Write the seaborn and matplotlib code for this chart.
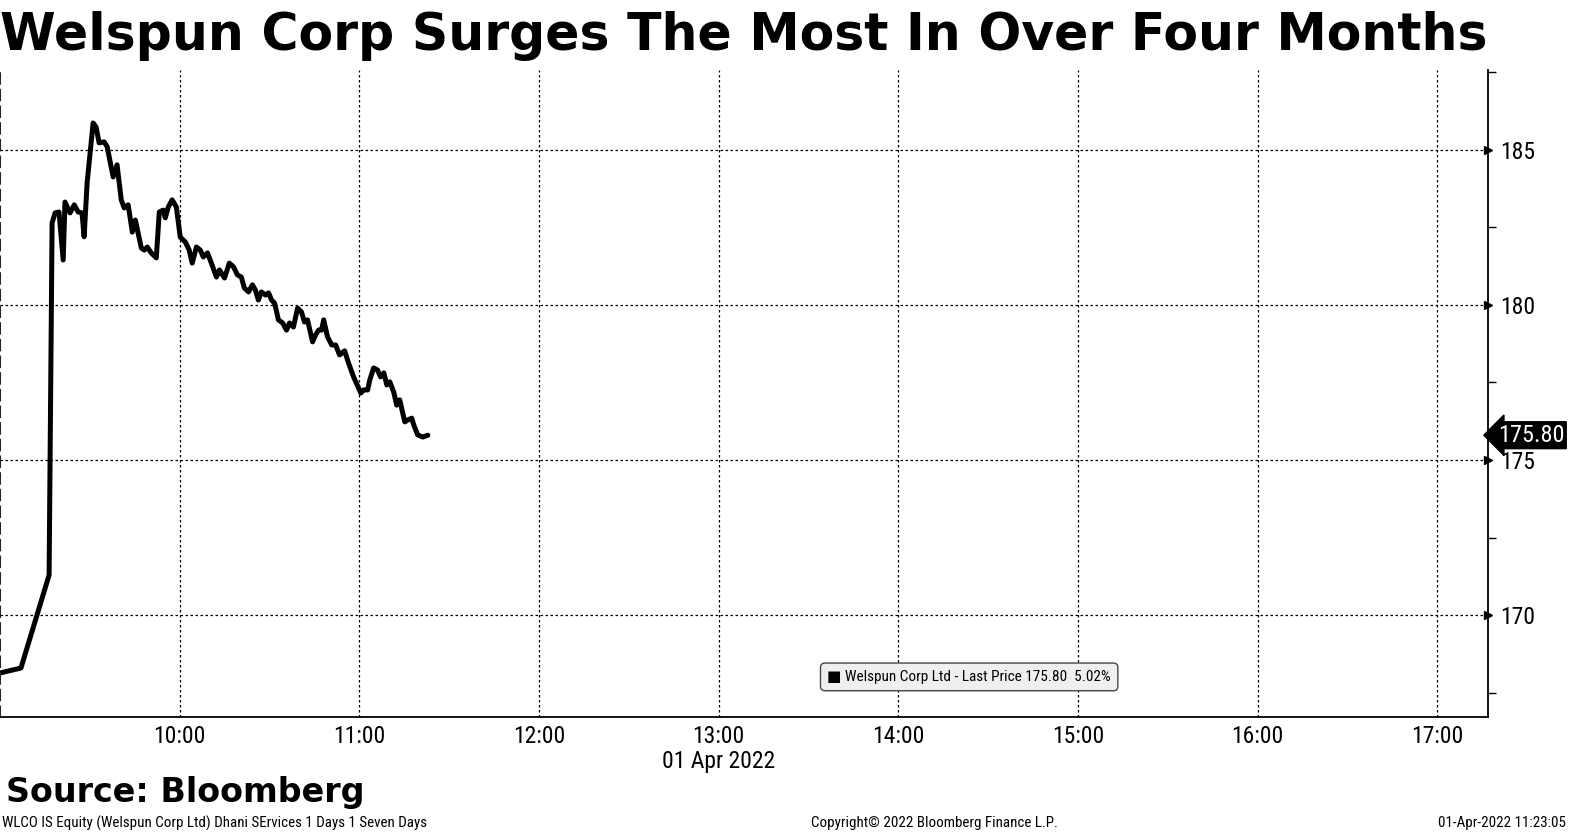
import pandas as pd
import numpy as np
import matplotlib
matplotlib.use("Agg")
import matplotlib.pyplot as plt
import matplotlib.dates as mdates
from matplotlib.ticker import FixedLocator
import seaborn as sns

# minutes after 09:00 on 01 Apr 2022
minutes = [0, 7, 16.4, 17.4, 18.4, 19.7, 21.1, 21.7, 23.4, 24.8, 26.1, 27.4, 28.1,
           29.1, 31.1, 32.1, 33.1, 34.8, 35.8, 37.8, 39.1, 40.5, 41.5, 42.8, 44.2,
           45.2, 47.2, 48.2, 49.2, 50.5, 52.2, 53.2, 54.5, 55.2, 56.2, 57.5, 58.9,
           60.2, 61.9, 63.2, 64.2, 65.6, 66.9, 67.9, 69.3, 70.6, 72.3, 73.3, 75.0,
           76.6, 78.0, 79.3, 80.6, 81.6, 83.0, 84.3, 85.3, 86.3, 87.3, 88.7, 89.7,
           90.7, 91.7, 93.0, 94.4, 95.7, 96.7, 98.0, 99.4, 100.7, 101.7, 102.7,
           104.4, 105.4, 106.4, 107.4, 108.1, 109.4, 110.8, 112.1, 113.4, 115.1,
           116.4, 118.1, 120.5, 121.5, 122.8, 123.5, 124.8, 126.1, 127.1, 128.2,
           129.2, 130.2, 131.5, 132.5, 133.5, 135.2, 136.2, 137.5, 138.2, 139.5,
           141.2, 142.9]
prices = [168.13, 168.29, 171.29, 182.65, 182.97, 183.0, 181.45, 183.32, 182.97,
          183.23, 183.0, 182.97, 182.2, 183.94, 185.87, 185.74, 185.23, 185.26,
          185.1, 184.13, 184.52, 183.39, 183.13, 183.23, 182.35, 182.74, 181.84,
          181.77, 181.87, 181.68, 181.52, 183.0, 183.06, 182.81, 183.16, 183.39,
          183.16, 182.19, 182.03, 181.77, 181.35, 181.87, 181.77, 181.55, 181.68,
          181.35, 180.9, 181.13, 180.87, 181.35, 181.23, 180.97, 180.9, 180.55,
          180.42, 180.65, 180.48, 180.16, 180.42, 180.32, 180.39, 180.16, 180.06,
          179.52, 179.42, 179.19, 179.42, 179.29, 179.9, 179.77, 179.45, 179.52,
          178.81, 179.03, 179.19, 179.19, 179.52, 178.97, 178.71, 178.71, 178.39,
          178.52, 178.13, 177.68, 177.16, 177.26, 177.26, 177.58, 177.97, 177.9,
          177.68, 177.81, 177.42, 177.52, 177.19, 176.77, 176.94, 176.23, 176.29,
          176.35, 176.13, 175.81, 175.74, 175.80]

y_ticks = [170, 175, 180, 185]
last_price = 175.80
change_pct = "5.02%"
title = "Welspun Corp Surges The Most In Over Four Months"
series_label = "Welspun Corp Ltd - Last Price"
footer_left = "WLCO IS Equity (Welspun Corp Ltd) Dhani SErvices 1 Days 1 Seven Days"
footer_mid = "Copyright\u00a9 2022 Bloomberg Finance L.P."
footer_right = "01-Apr-2022 11:23:05"

start = pd.Timestamp("2022-04-01 09:00")
df = pd.DataFrame({"time": start + pd.to_timedelta(minutes, unit="m"), "price": prices})

sns.set_style("white")
narrow = ["Liberation Sans Narrow", "Roboto Condensed", "Roboto", "DejaVu Sans"]
plt.rcParams["font.family"] = narrow
plt.rcParams["text.color"] = "black"
plt.rcParams["xtick.color"] = "black"
plt.rcParams["ytick.color"] = "black"

fig = plt.figure(figsize=(15.74, 8.35), dpi=100)
ax = fig.add_axes([0.0, 0.1413, 0.9454, 0.7749])

sns.lineplot(data=df, x="time", y="price", ax=ax, color="black", linewidth=3.6)

ax.set_xlim(start, pd.Timestamp("2022-04-01 17:17"))
ax.set_ylim(166.71, 187.58)

# right side price axis, dotted grid
ax.yaxis.tick_right()
ax.yaxis.set_major_locator(FixedLocator(y_ticks))
ax.yaxis.set_minor_locator(FixedLocator([167.5, 172.5, 177.5, 182.5, 187.5]))
ax.xaxis.set_major_locator(mdates.HourLocator(byhour=range(10, 18)))
ax.xaxis.set_minor_locator(mdates.MinuteLocator(byminute=[30]))
ax.xaxis.set_major_formatter(mdates.DateFormatter("%H:%M"))

ax.tick_params(axis="y", which="major", length=0, pad=9, labelsize=17)
ax.tick_params(axis="y", which="minor", length=6, width=1, direction="out")
ax.tick_params(axis="x", which="major", length=0, pad=6, labelsize=17)
ax.tick_params(axis="x", which="minor", length=5, width=1, direction="out")

# little triangles pointing at the price labels
for v in y_ticks:
    ax.plot([1.0], [v], marker=">", color="black", markersize=6,
            transform=ax.get_yaxis_transform(), clip_on=False)

ax.grid(True, which="major", color="black", linestyle=(0, (2, 2)), linewidth=0.9)
ax.set_xlabel("")
ax.set_ylabel("")

ax.spines["top"].set_visible(False)
ax.spines["left"].set_linestyle((0, (5, 3)))
ax.spines["left"].set_linewidth(1.5)
for s in ["right", "bottom"]:
    ax.spines[s].set_linewidth(1.3)
    ax.spines[s].set_color("black")

# date under 13:00
ax.text(pd.Timestamp("2022-04-01 13:00"), -0.068, "01 Apr 2022",
        transform=ax.get_xaxis_transform(), ha="center", va="center", fontsize=17)

# last price tag
ax.annotate(f"{last_price:.2f}", xy=(1.0, last_price), xycoords=ax.get_yaxis_transform(),
            xytext=(7, 0), textcoords="offset points", ha="left", va="center",
            fontsize=17.5, color="white",
            bbox=dict(boxstyle="larrow,pad=0.08", fc="black", ec="black"))

# legend box
ax.text(0.556, 0.062, f"\u25a0 {series_label} {last_price:.2f}  {change_pct}",
        transform=ax.transAxes, fontsize=11, ha="left", va="center",
        bbox=dict(boxstyle="round,pad=0.45,rounding_size=0.3", fc="#efefef", ec="#444444", lw=1))

# title and footers
fig.text(0.0, 0.957, title, fontsize=36.4, fontweight="bold", family="DejaVu Sans",
         ha="left", va="center")
fig.text(0.004, 0.051, "Source: Bloomberg", fontsize=24, fontweight="bold",
         family="DejaVu Sans", ha="left", va="center")
fig.text(0.001, 0.014, footer_left, fontsize=10.8, ha="left", va="center")
fig.text(0.515, 0.014, footer_mid, fontsize=10.8, ha="left", va="center")
fig.text(0.995, 0.014, footer_right, fontsize=10.8, ha="right", va="center")

fig.savefig("out.png", dpi=100)
